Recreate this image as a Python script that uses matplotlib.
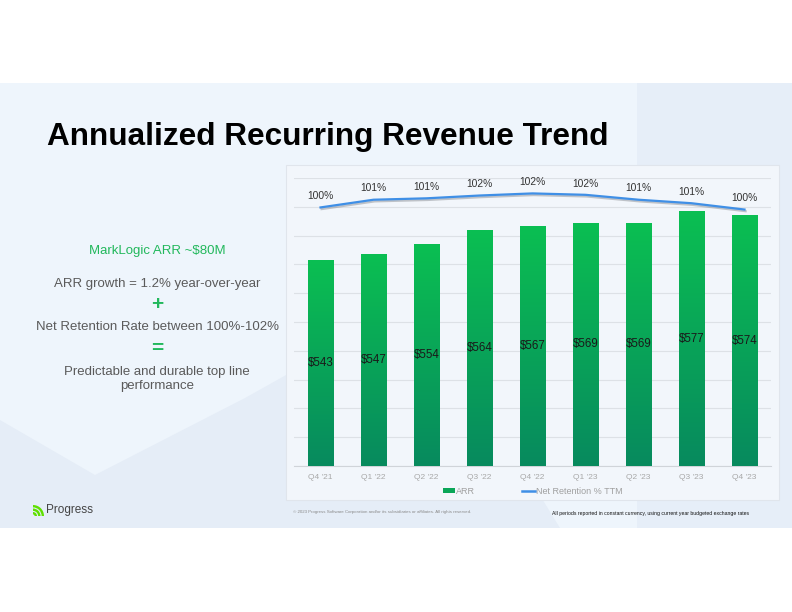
import numpy as np
import matplotlib
matplotlib.use("Agg")
import matplotlib.pyplot as plt
from matplotlib.patches import Rectangle, Polygon, Wedge
from matplotlib.lines import Line2D
from matplotlib.colors import LinearSegmentedColormap
import matplotlib.patheffects as pe

plt.rcParams['font.family'] = ['Liberation Sans', 'DejaVu Sans']

# ---------------- data ----------------
quarters = ["Q4 '21", "Q1 '22", "Q2 '22", "Q3 '22", "Q4 '22", "Q1 '23", "Q2 '23", "Q3 '23", "Q4 '23"]
arr_values = [543, 547, 554, 564, 567, 569, 569, 577, 574]
net_retention = [100.0, 101.1, 101.3, 101.7, 102.0, 101.8, 101.1, 100.6, 99.7]

title = "Annualized Recurring Revenue Trend"
side_lines = ["MarkLogic ARR ~$80M", "ARR growth = 1.2% year-over-year", "+",
              "Net Retention Rate between 100%-102%", "=",
              "Predictable and durable top line\nperformance"]

W, H = 792, 612
fig = plt.figure(figsize=(W / 100, H / 100), dpi=100)
fig.patch.set_facecolor("white")

# ---------------- slide background ----------------
bg = fig.add_axes([0, 0, 1, 1], zorder=0)
bg.set_xlim(0, W)
bg.set_ylim(H, 0)
bg.axis("off")
bg.add_patch(Rectangle((0, 83), W, 445, facecolor="#eef5fc", edgecolor="none"))
bg.add_patch(Polygon([(637, 83), (792, 83), (792, 528), (637, 528)], closed=True,
                     facecolor="#e6eef8", edgecolor="none"))
bg.add_patch(Polygon([(0, 420), (95, 475), (245, 398), (420, 300), (560, 528), (0, 528)], closed=True,
                     facecolor="#e5edf7", edgecolor="none"))
# chart panel
bg.add_patch(Rectangle((286, 165), 493, 335, facecolor="#f2f6fb", edgecolor="#e0e5ec", lw=0.8))

# title
bg.text(47, 137, title, fontsize=22.7, fontweight="bold", color="black", va="center", ha="left")

# side text
green = "#22b85c"
gray_txt = "#5a5a5a"
bg.text(157, 251, side_lines[0], fontsize=9.5, color=green, ha="center", va="center")
bg.text(157, 284, side_lines[1], fontsize=9.5, color=gray_txt, ha="center", va="center")
bg.text(157, 305, side_lines[2], fontsize=15, color=green, ha="center", va="center", fontweight="bold")
bg.text(157, 327, side_lines[3], fontsize=9.5, color=gray_txt, ha="center", va="center")
bg.text(157, 348, side_lines[4], fontsize=15, color=green, ha="center", va="center", fontweight="bold")
bg.text(157, 379, side_lines[5], fontsize=9.5, color=gray_txt, ha="center", va="center",
        linespacing=1.2)

# footer
logo_green = "#5fe000"
for r in [4.0, 7.5, 11.0]:
    bg.add_patch(Wedge((33, 516), r, 270, 360, width=2.4, facecolor=logo_green, edgecolor="none"))
bg.text(46, 510, "Progress", fontsize=8.5, color="#444444", ha="left", va="center")
bg.text(293, 512, "\u00a9 2023 Progress Software Corporation and/or its subsidiaries or affiliates. All rights reserved.",
        fontsize=3.2, color="#8a8a8a", ha="left", va="center")
bg.text(552, 513, "All periods reported in constant currency, using current year budgeted exchange rates",
        fontsize=3.7, color="#111111", ha="left", va="center")

# ---------------- chart ----------------
left, right, top, bottom = 294, 771, 178, 466
ax = fig.add_axes([left / W, 1 - bottom / H, (right - left) / W, (bottom - top) / H], zorder=2)
ax.set_facecolor("none")
x = np.arange(len(quarters))
bw = 0.49
ymin, ymax = 400, 600

bars = ax.bar(x, arr_values, width=bw, color="none", edgecolor="none", zorder=3)
cmap = LinearSegmentedColormap.from_list("g", ["#078a5e", "#0bbf52"])
grad = np.linspace(0, 1, 256).reshape(-1, 1)
for xi, v, b in zip(x, arr_values, bars):
    im = ax.imshow(grad, cmap=cmap, origin="lower", aspect="auto",
                   extent=(xi - bw / 2, xi + bw / 2, ymin, v), zorder=3)
    im.set_clip_path(b)
ax.set_xlim(-0.5, len(quarters) - 0.5)
ax.set_ylim(ymin, ymax)

for xi, v in zip(x, arr_values):
    ax.text(xi, (ymin + v) / 2, f"${v}", ha="center", va="center", fontsize=8.3, color="#1a1a1a", zorder=5)

ax2 = ax.twinx()
ax2.set_ylim(63.1, 104.2)
ax2.axis("off")

ax.set_yticks(np.arange(400, 601, 20))
ax.yaxis.grid(True, color="#dde1e6", lw=0.8)
ax.set_axisbelow(True)
ax.tick_params(axis="y", left=False, right=False, labelleft=False, labelright=False, length=0)
ax.tick_params(axis="x", bottom=False, length=0, labelsize=6, labelcolor="#a8a8a8", pad=6)
ax.set_xticks(x)
ax.set_xticklabels(quarters)
for s in ["top", "left", "right"]:
    ax.spines[s].set_visible(False)
ax.spines["bottom"].set_color("#d0d4d9")
ax.spines["bottom"].set_linewidth(0.8)

line_color = "#3f8fe6"
ax2.plot(x, net_retention, color=line_color, lw=1.6, zorder=6,
         path_effects=[pe.SimpleLineShadow(offset=(0.8, -1.2), shadow_color="#8c9096", alpha=0.5), pe.Normal()])
for xi, v in zip(x, net_retention):
    ax2.annotate(f"{v:.0f}%", (xi, v), xytext=(0, 4.5), textcoords="offset points",
                 ha="center", va="bottom", fontsize=7.4, color="#333333")

handles = [Rectangle((0, 0), 1, 1, facecolor="#0aa658", edgecolor="none"),
           Line2D([0], [0], color=line_color, lw=1.8)]
leg = ax.legend(handles, ["ARR", "Net Retention % TTM"], loc="center", bbox_to_anchor=(0.5, -0.087),
                ncol=2, frameon=False, fontsize=6.5, handlelength=1.4, handleheight=0.5,
                handletextpad=0.1, columnspacing=5.2)
for t in leg.get_texts():
    t.set_color("#a0a0a0")

fig.savefig("out.png", dpi=100, facecolor=fig.get_facecolor())
